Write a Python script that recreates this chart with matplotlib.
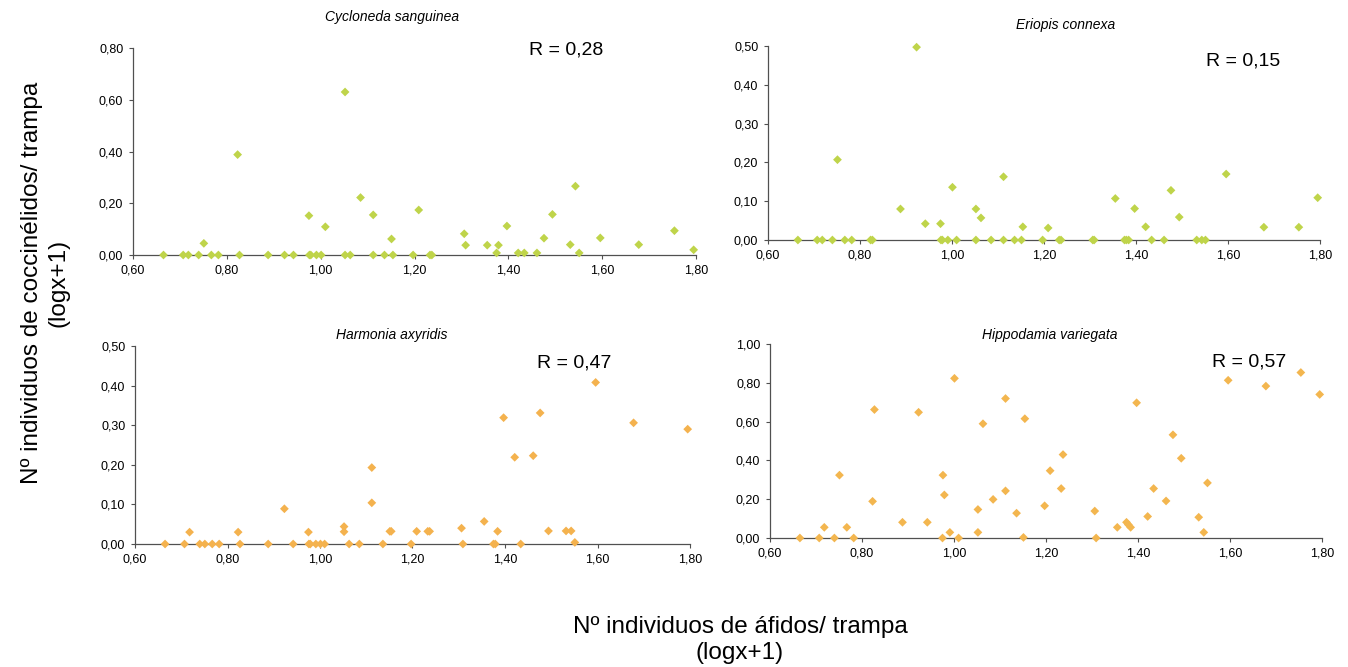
import numpy as np
import matplotlib
matplotlib.use('Agg')
import matplotlib.pyplot as plt
from matplotlib.ticker import FuncFormatter, MultipleLocator

plt.rcParams['font.family'] = ['Liberation Sans', 'DejaVu Sans']

# Nº áfidos por trampa (logx+1), común a los cuatro paneles
afidos = [0.665, 0.707, 0.718, 0.740, 0.751, 0.767, 0.782, 0.823, 0.827, 0.888,
          0.923, 0.942, 0.975, 0.976, 0.979, 0.991, 1.001, 1.010, 1.052, 1.052,
          1.063, 1.085, 1.112, 1.112, 1.136, 1.151, 1.154, 1.197, 1.209, 1.233,
          1.237, 1.306, 1.309, 1.355, 1.375, 1.379, 1.384, 1.397, 1.421, 1.434,
          1.461, 1.476, 1.494, 1.532, 1.543, 1.551, 1.596, 1.678, 1.754, 1.795]

# Nº coccinélidos por trampa (logx+1); nan = punto no visible
cycloneda = [0, 0, 0, 0, 0.045, 0, 0, 0.388, 0, 0,
             0, 0, 0.152, 0, 0, 0, 0, 0.109, 0.630, 0,
             0, 0.222, 0.155, 0, 0, 0.062, 0, 0, 0.174, 0,
             0, 0.082, 0.038, 0.038, 0.008, 0.038, np.nan, 0.112, 0.008, 0.008,
             0.008, 0.065, 0.157, 0.040, 0.266, 0.008, 0.066, 0.040, 0.094, 0.020]

eriopis = [0, 0, 0, 0, 0.207, 0, 0, 0, 0, 0.080,
           0.497, 0.042, 0.042, 0, 0, 0, 0.136, 0, 0.080, 0,
           0.057, 0, 0.163, 0, 0, 0, 0.034, 0, 0.031, 0,
           0, 0, 0, 0.107, 0, 0, 0, 0.081, 0.034, 0,
           0, 0.128, 0.059, 0, 0, 0, 0.170, 0.033, 0.033, 0.109]

harmonia = [0, 0, 0.030, 0, 0, 0, 0, 0.030, 0, 0,
            0.089, 0, 0.030, 0, 0, 0, 0, 0, 0.044, 0.031,
            0, 0, 0.193, 0.104, 0, 0.032, 0.032, 0, 0.032, 0.032,
            0.032, 0.040, 0, 0.057, 0, 0, 0.032, 0.319, 0.219, 0,
            0.223, 0.331, 0.033, 0.033, 0.033, 0.004, 0.408, 0.306, np.nan, 0.290]

hippodamia = [0, 0, 0.055, 0, 0.324, 0.055, 0, 0.189, 0.662, 0.081,
              0.648, 0.081, 0, 0.324, 0.222, 0.029, 0.823, 0, 0.147, 0.029,
              0.589, 0.199, 0.719, 0.243, 0.128, 0.003, 0.615, 0.166, 0.347, 0.255,
              0.430, 0.139, 0, 0.055, 0.081, 0.069, 0.055, 0.697, 0.111, 0.255,
              0.191, 0.532, 0.411, 0.107, 0.029, 0.284, 0.813, 0.783, 0.853, 0.740]

especies = ['Cycloneda sanguinea', 'Eriopis connexa', 'Harmonia axyridis', 'Hippodamia variegata']
valores_r = ['R = 0,28', 'R = 0,15', 'R = 0,47', 'R = 0,57']
y_max = [0.8, 0.5, 0.5, 1.0]
y_paso = [0.2, 0.1, 0.1, 0.2]
x_ticks = [0.6, 0.8, 1.0, 1.2, 1.4, 1.6, 1.8]

W, H = 1348, 667

# caja de cada panel en píxeles: izquierda, derecha, y de 0, y del máximo
cajas = [(133, 696, 255, 48), (768, 1320, 240, 46),
         (135, 690, 544, 346), (770, 1322, 538, 344)]
pos_titulo = [(392, 17), (1066, 25), (392, 335), (1050, 335)]
pos_r = [(566, 50), (1243, 61), (574, 363), (1249, 362)]
colores = ['#bfd44a', '#bfd44a', '#f4b24e', '#f3b64f']


def coma(v, pos):
    return f'{v:.2f}'.replace('.', ',')


def dibujar_panel(fig, i, y):
    x0, x1, yb, yt = cajas[i]
    ax = fig.add_axes([x0 / W, 1 - yb / H, (x1 - x0) / W, (yb - yt) / H])
    ax.scatter(afidos, y, marker='D', s=20, color=colores[i], edgecolors='none',
               zorder=3, clip_on=False)
    ax.set_xlim(0.6, 1.8)
    ax.set_ylim(0, y_max[i])
    ax.set_xticks(x_ticks)
    ax.yaxis.set_major_locator(MultipleLocator(y_paso[i]))
    ax.xaxis.set_major_formatter(FuncFormatter(coma))
    ax.yaxis.set_major_formatter(FuncFormatter(coma))
    for lado in ['top', 'right']:
        ax.spines[lado].set_visible(False)
    for lado in ['left', 'bottom']:
        ax.spines[lado].set_color('#505050')
        ax.spines[lado].set_linewidth(0.9)
    ax.tick_params(axis='both', direction='out', length=3, width=0.8,
                   color='#505050', labelsize=9, pad=4)
    ax.patch.set_alpha(0)

    tx, ty = pos_titulo[i]
    fig.text(tx / W, 1 - ty / H, especies[i], ha='center', va='center',
             fontsize=10, style='italic')
    rx, ry = pos_r[i]
    fig.text(rx / W, 1 - ry / H, valores_r[i], ha='center', va='center', fontsize=14)
    return ax


fig = plt.figure(figsize=(W / 100, H / 100), dpi=100)

for i, serie in enumerate([cycloneda, eriopis, harmonia, hippodamia]):
    dibujar_panel(fig, i, serie)

fig.text(45 / W, 1 - 283 / H, 'Nº individuos de coccinélidos/ trampa\n(logx+1)',
         rotation=90, ha='center', va='center', fontsize=17.5, linespacing=1.25)
fig.text(740 / W, 1 - 640 / H, 'Nº individuos de áfidos/ trampa\n(logx+1)',
         ha='center', va='center', fontsize=17.5, linespacing=1.25)

fig.savefig('out.png', dpi=100)
